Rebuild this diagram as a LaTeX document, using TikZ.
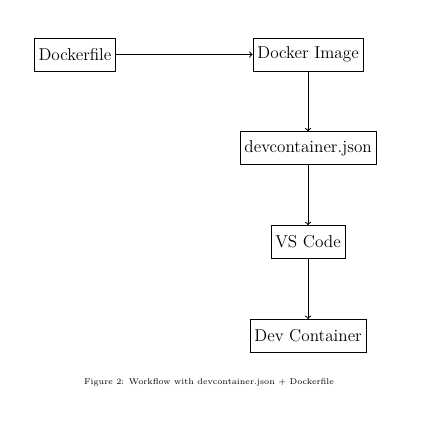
\documentclass[tikz,border=0pt]{standalone}
\usetikzlibrary{positioning}

\begin{document}
\begin{tikzpicture}[x=0.75pt,y=0.75pt]
				% Einstellungen für die Kästchen
				\tikzset{box/.style={
						draw=black, % Schwarze Linie für die Umrandung
						semithick, % Etwas dickere Linie
						font=\fontsize{12.9}{15}\selectfont, % Schriftgröße
						minimum height=24.75pt, % Gleiche Höhe für alle Kästchen
						text=black, % Textfarbe
						align=center % Text zentrieren
				}}
				
				% Feste Seitengröße
				\useasboundingbox (-75,54.5) rectangle (347,-382.5);
				
				% Kästchen platzieren
				\node[box] (dockerfile) at (0,0) {Dockerfile};
				\node[box, right=102.3pt of dockerfile] (image) {Docker Image};
				\node[box, below=45pt of image] (devjson) {devcontainer.json};
				\node[box, below=45pt of devjson] (vscode) {VS Code};
				\node[box, below=45pt of vscode] (devcont) {Dev Container};
				
				% Pfeile zwischen den Kästchen
				\draw[->, thick] (dockerfile) -- (image);
				\draw[->, thick] (image) -- (devjson);
				\draw[->, thick] (devjson) -- (vscode);
				\draw[->, thick] (vscode) -- (devcont);
				
				% Bildunterschrift
				\node (caption) at (134,-327.5) {\fontsize{6.25}{7.5}\selectfont Figure 2: Workflow with devcontainer.json + Dockerfile};
			\end{tikzpicture}
\end{document}
